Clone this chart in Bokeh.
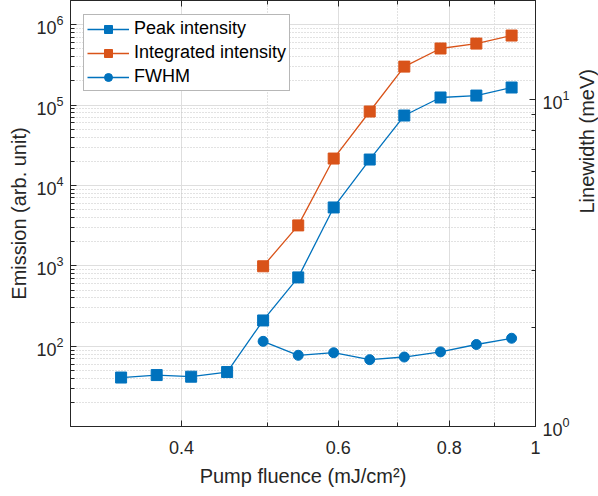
import math
from bokeh.plotting import figure
from bokeh.models import Range1d, LogScale, LogAxis, FixedTicker, LogTickFormatter
from bokeh.embed import file_html
from bokeh.resources import INLINE

# ---- data ----
fluence = [0.342, 0.375, 0.410, 0.450, 0.494, 0.541, 0.593, 0.651, 0.712, 0.782, 0.858, 0.940]
peak_intensity = [41, 44, 42, 48, 210, 720, 5330, 21000, 74000, 124000, 131000, 165000]
fluence_above = [0.494, 0.541, 0.593, 0.651, 0.712, 0.782, 0.858, 0.940]
integrated_intensity = [990, 3190, 21600, 83000, 300000, 504000, 580000, 730000]
fwhm = [1.82, 1.65, 1.68, 1.60, 1.63, 1.69, 1.78, 1.86]

x_major = [0.4, 0.6, 0.8, 1.0]
x_minor = [0.3, 0.5, 0.7, 0.9]
y_major = [1e2, 1e3, 1e4, 1e5, 1e6]
y_minor = [m * 10 ** e for e in range(1, 7) for m in range(2, 10)]
r_major = [1, 10]
r_minor = [2, 3, 4, 5, 6, 7, 8, 9]

BLUE = "#0072BD"
ORANGE = "#D95319"
AX = "#262626"
FONT = "Liberation Sans"

FRAME_W, FRAME_H = 465, 426

p = figure(frame_width=FRAME_W, frame_height=FRAME_H, x_axis_type="log", y_axis_type="log",
           x_range=Range1d(0.3, 1.0), y_range=Range1d(10.1, 1.99e6),
           output_backend="svg", toolbar_location=None,
           min_border_left=70, min_border_right=40, min_border_top=0, min_border_bottom=10,
           background_fill_color="white", border_fill_color="white")
p.outline_line_color = AX
p.outline_line_alpha = 1.0
p.outline_line_width = 1

p.extra_y_ranges = {"fw": Range1d(1.0, 20.0)}
p.extra_y_scales = {"fw": LogScale()}

xt = FixedTicker(ticks=x_major, minor_ticks=x_minor)
yt = FixedTicker(ticks=y_major, minor_ticks=y_minor)
rt = FixedTicker(ticks=r_major, minor_ticks=r_minor)


def style_axis(ax, label_size="18px"):
    ax.axis_line_color = AX
    ax.major_tick_line_color = AX
    ax.minor_tick_line_color = AX
    ax.major_tick_in = 6
    ax.major_tick_out = 0
    ax.minor_tick_in = 4
    ax.minor_tick_out = 0
    ax.major_label_text_font = FONT
    ax.major_label_text_font_size = label_size
    ax.major_label_text_color = AX
    ax.axis_label_text_font = FONT
    ax.axis_label_text_font_size = "20px"
    ax.axis_label_text_font_style = "normal"
    ax.axis_label_text_color = AX


xa = p.xaxis[0]
xa.ticker = xt
style_axis(xa)
xa.axis_label = "Pump fluence (mJ/cm²)"
xa.major_label_standoff = 14
xa.axis_label_standoff = 8
p.xgrid.ticker = xt

ya = p.yaxis[0]
ya.ticker = yt
ya.formatter = LogTickFormatter()
style_axis(ya)
ya.axis_label = "Emission (arb. unit)"
ya.major_label_standoff = 7
ya.axis_label_standoff = 3
p.ygrid.ticker = yt

for g in (p.xgrid, p.ygrid):
    g.grid_line_color = "#dedede"
    g.grid_line_width = 1
    g.minor_grid_line_color = "#c4c4c4"
    g.minor_grid_line_dash = "1 2"
    g.minor_grid_line_width = 1

top = LogAxis(ticker=xt)
style_axis(top, "1px")
top.major_label_overrides = {t: "" for t in x_major}
top.major_label_standoff = 0
p.add_layout(top, "above")

ra = LogAxis(y_range_name="fw", ticker=rt, formatter=LogTickFormatter())
style_axis(ra)
ra.major_label_standoff = 7
ra.axis_label = "Linewidth (meV)"
ra.axis_label_orientation = math.pi / 2
ra.axis_label_standoff = 14
p.add_layout(ra, "right")

# series
p.line(fluence, peak_intensity, color=BLUE, line_width=1.3, legend_label="Peak intensity")
p.scatter(fluence, peak_intensity, marker="square", size=11, color=BLUE, legend_label="Peak intensity")
p.line(fluence_above, integrated_intensity, color=ORANGE, line_width=1.3, legend_label="Integrated intensity")
p.scatter(fluence_above, integrated_intensity, marker="square", size=11, color=ORANGE,
          legend_label="Integrated intensity")
p.line(fluence_above, fwhm, color=BLUE, line_width=1.3, y_range_name="fw", legend_label="FWHM")
p.scatter(fluence_above, fwhm, marker="circle", size=10, color=BLUE, y_range_name="fw", legend_label="FWHM")

lg = p.legend[0]
lg.location = (13, 335)
lg.label_text_font = FONT
lg.label_text_font_size = "18px"
lg.label_text_color = "black"
lg.glyph_width = 42
lg.glyph_height = 20
lg.label_height = 20
lg.label_standoff = 5
lg.spacing = 3
lg.padding = 3
lg.margin = 0
lg.border_line_color = "#707070"
lg.border_line_width = 1
lg.background_fill_color = "white"
lg.background_fill_alpha = 1.0

open("out.html", "w").write(file_html(p, INLINE))
